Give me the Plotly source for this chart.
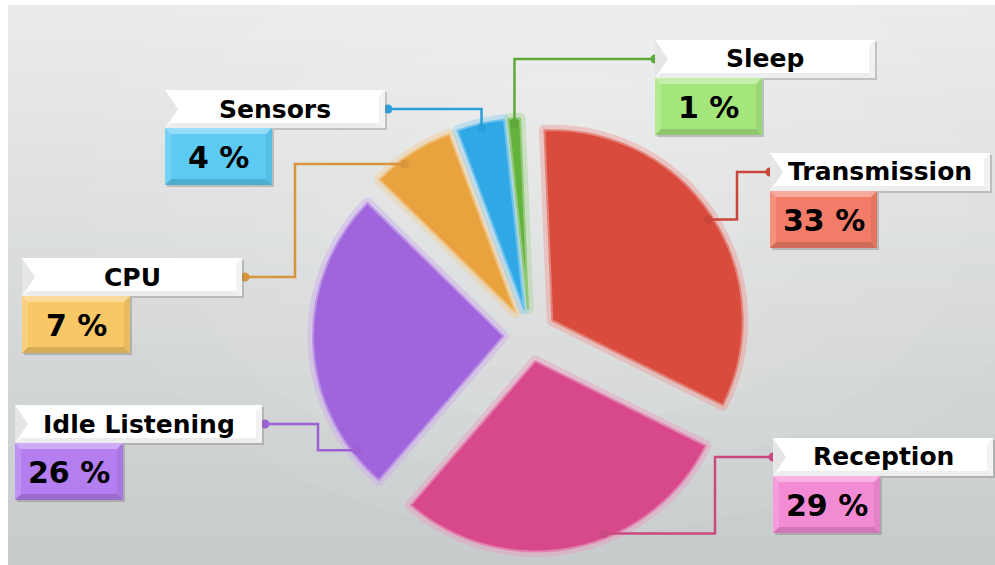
import math
import plotly.graph_objects as go

W, H = 995, 565

# ---------------- data ----------------
labels = ["Sleep", "Transmission", "Reception", "Idle Listening", "CPU", "Sensors"]
values = [1, 33, 29, 26, 7, 4]
pct_labels = [f"{v} %" for v in values]

# ---------------- styles ----------------
slice_colors = ["#62b23c", "#d84b3d", "#d7498a", "#a064dc", "#e8a23e", "#2fa8e5"]
box_colors = ["#a4e67c", "#f27c67", "#f38ad4", "#b47ef0", "#f8c866", "#5ccaf2"]
line_colors = ["#5ea93a", "#c9463b", "#c94a80", "#9d60d2", "#d9953e", "#2a9fdb"]

# label box layout (pixels)
header_x0 = [655, 770, 773, 15, 22, 165]
header_y0 = [40, 153, 438, 405, 258, 90]
header_w = [220, 220, 220, 247, 220, 220]
header_h = 38
pct_w = [107, 107, 107, 108, 108, 107]
pct_h = 57
start_side = ["left", "left", "left", "right", "right", "right"]
elbow_x = [None, 737, 715, 318, 295, None]
anchor_frac = [0.5, 0.5, 0.4, 0.12, 0.35, 0.5]

# pie layout (pixels)
CX, CY, HALF, PULL, ROT = 530, 335, 217, 0.14, 354
R = HALF / (1 + PULL)


def px(x):
    return x / W


def py(y):
    return 1 - y / H


def mix(hexc, other, f):
    hexc = hexc.lstrip("#")
    c = [int(hexc[i:i + 2], 16) for i in (0, 2, 4)]
    m = [round(a + (b - a) * f) for a, b in zip(c, other)]
    return "#%02x%02x%02x" % tuple(m)


def tint(c, f):
    return mix(c, (255, 255, 255), f)


def shade(c, f):
    return mix(c, (0, 0, 0), f)


def rgba(hexc, a):
    hexc = hexc.lstrip("#")
    r, g, b = (int(hexc[i:i + 2], 16) for i in (0, 2, 4))
    return f"rgba({r},{g},{b},{a})"


shapes = []
annotations = []

# ---------------- background ----------------
top_c = (234, 235, 235)
bot_c = (199, 203, 204)
N = 56
for i in range(N):
    f = i / (N - 1)
    col = tuple(round(a + (b - a) * f) for a, b in zip(top_c, bot_c))
    y0 = 5 + i * (H - 5) / N
    y1 = 5 + (i + 1) * (H - 5) / N + 1
    shapes.append(dict(type="rect", xref="paper", yref="paper", layer="below",
                       x0=px(8), x1=1, y0=py(y0), y1=py(min(y1, H)),
                       fillcolor="rgb(%d,%d,%d)" % col, line=dict(width=0)))
for rr in [480, 400, 320, 250, 180, 110]:
    shapes.append(dict(type="circle", xref="paper", yref="paper", layer="below",
                       x0=px(570 - rr), x1=px(570 + rr),
                       y0=py(200 - rr * 0.7), y1=py(200 + rr * 0.7),
                       fillcolor="rgba(255,255,255,0.05)", line=dict(width=0)))


def path_poly(pts):
    return "M " + " L ".join(f"{px(x)},{py(y)}" for x, y in pts) + " Z"


def path_line(pts):
    return "M " + " L ".join(f"{px(x)},{py(y)}" for x, y in pts)


# ---------------- pie ----------------
domain = dict(x=[px(CX - HALF), px(CX + HALF)],
              y=[(H - CY - HALF) / H, (H - CY + HALF) / H])

glow = go.Pie(labels=labels, values=values, sort=False, direction="clockwise",
              rotation=ROT, pull=[PULL] * len(values), domain=domain,
              textinfo="none", hoverinfo="skip", showlegend=False,
              marker=dict(colors=[rgba(c, 0.2) for c in slice_colors],
                          line=dict(color=[rgba(tint(c, 0.45), 0.45) for c in slice_colors], width=11)))
main = go.Pie(labels=labels, values=values, sort=False, direction="clockwise",
              rotation=ROT, pull=[PULL] * len(values), domain=domain,
              textinfo="none", hoverinfo="label+percent", showlegend=False,
              marker=dict(colors=slice_colors,
                          line=dict(color=[tint(c, 0.3) for c in slice_colors], width=2)))
fig = go.Figure([glow, main])

# ---------------- labels, connectors ----------------
total = sum(values)
cum = 0
for i, lab in enumerate(labels):
    span = 360 * values[i] / total
    start = ROT + 360 * cum / total
    cum += values[i]
    mid = math.radians(start + span / 2)
    ang = math.radians(start + span * anchor_frac[i])
    ox, oy = PULL * R * math.sin(mid), -PULL * R * math.cos(mid)
    tx = CX + ox + 0.975 * R * math.sin(ang)
    ty = CY + oy - 0.975 * R * math.cos(ang)

    x0, y0 = header_x0[i], header_y0[i]
    x1, y1 = x0 + header_w[i], y0 + header_h
    sy = y0 + header_h / 2
    sx = x0 if start_side[i] == "left" else x1 + 3
    if elbow_x[i] is None:
        pts = [(sx, sy), (tx, sy), (tx, ty)]
    else:
        pts = [(sx, sy), (elbow_x[i], sy), (elbow_x[i], ty), (tx, ty)]
    lc = line_colors[i]
    shapes.append(dict(type="path", xref="paper", yref="paper", layer="above",
                       path=path_line(pts), line=dict(color=lc, width=2.5)))
    for (dx, dy) in [(sx, sy), (tx, ty)]:
        shapes.append(dict(type="circle", xref="paper", yref="paper", layer="above",
                           x0=px(dx - 4.5), x1=px(dx + 4.5), y0=py(dy - 4.5), y1=py(dy + 4.5),
                           fillcolor=lc, line=dict(width=0)))

    # header box
    shapes.append(dict(type="rect", xref="paper", yref="paper", layer="above",
                       x0=px(x0 + 2), x1=px(x1 + 2), y0=py(y0 + 2), y1=py(y1 + 2),
                       fillcolor="rgba(120,120,120,0.35)", line=dict(width=0)))
    shapes.append(dict(type="rect", xref="paper", yref="paper", layer="above",
                       x0=px(x0), x1=px(x1), y0=py(y0), y1=py(y1),
                       fillcolor="#ffffff", line=dict(width=0)))
    shapes.append(dict(type="path", xref="paper", yref="paper", layer="above",
                       path=path_poly([(x0, y0), (x0 + 13, y0 + 19), (x0, y1)]),
                       fillcolor="#e6e6e6", line=dict(width=0)))
    shapes.append(dict(type="path", xref="paper", yref="paper", layer="above",
                       path=path_poly([(x0, y1), (x0 + 6, y1 - 5), (x1 - 6, y1 - 5), (x1, y1)]),
                       fillcolor="#ededed", line=dict(width=0)))
    shapes.append(dict(type="path", xref="paper", yref="paper", layer="above",
                       path=path_poly([(x1, y0), (x1 - 6, y0 + 6), (x1 - 6, y1 - 5), (x1, y1)]),
                       fillcolor="#f2f2f2", line=dict(width=0)))
    annotations.append(dict(x=px((x0 + x1) / 2), y=py(sy), xref="paper", yref="paper",
                            text=lab, showarrow=False, xanchor="center", yanchor="middle",
                            font=dict(family="DejaVu Sans", size=25, color="#000000", weight="bold")))

    # percent box
    bx0, by0 = x0, y1
    bx1, by1 = x0 + pct_w[i], y1 + pct_h
    bc = box_colors[i]
    b = 6
    shapes.append(dict(type="rect", xref="paper", yref="paper", layer="above",
                       x0=px(bx0 + 2), x1=px(bx1 + 2), y0=py(by0 + 2), y1=py(by1 + 2),
                       fillcolor="rgba(110,110,110,0.35)", line=dict(width=0)))
    shapes.append(dict(type="rect", xref="paper", yref="paper", layer="above",
                       x0=px(bx0), x1=px(bx1), y0=py(by0), y1=py(by1),
                       fillcolor=tint(bc, 0.35), line=dict(width=0)))
    shapes.append(dict(type="path", xref="paper", yref="paper", layer="above",
                       path=path_poly([(bx0, by0), (bx0 + b, by0 + b), (bx0 + b, by1 - b), (bx0, by1)]),
                       fillcolor=tint(bc, 0.15), line=dict(width=0)))
    shapes.append(dict(type="path", xref="paper", yref="paper", layer="above",
                       path=path_poly([(bx1, by0), (bx1 - b, by0 + b), (bx1 - b, by1 - b), (bx1, by1)]),
                       fillcolor=shade(bc, 0.06), line=dict(width=0)))
    shapes.append(dict(type="path", xref="paper", yref="paper", layer="above",
                       path=path_poly([(bx0, by1), (bx0 + b, by1 - b), (bx1 - b, by1 - b), (bx1, by1)]),
                       fillcolor=shade(bc, 0.14), line=dict(width=0)))
    shapes.append(dict(type="rect", xref="paper", yref="paper", layer="above",
                       x0=px(bx0 + b), x1=px(bx1 - b), y0=py(by0 + b), y1=py(by1 - b),
                       fillcolor=bc, line=dict(width=0)))
    annotations.append(dict(x=px((bx0 + bx1) / 2), y=py((by0 + by1) / 2 + 1), xref="paper", yref="paper",
                            text=pct_labels[i], showarrow=False, xanchor="center", yanchor="middle",
                            font=dict(family="DejaVu Sans", size=30, color="#000000", weight="bold")))

fig.update_layout(
    width=W, height=H,
    margin=dict(l=0, r=0, t=0, b=0, pad=0),
    paper_bgcolor="#ffffff",
    plot_bgcolor="rgba(0,0,0,0)",
    shapes=shapes,
    annotations=annotations,
    showlegend=False,
)

fig.write_html("out.html")
